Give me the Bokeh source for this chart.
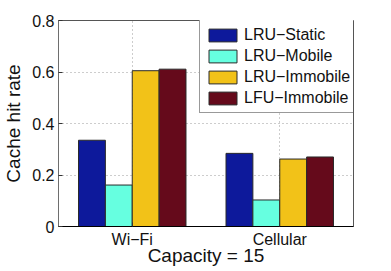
from bokeh.plotting import figure
from bokeh.models import (FactorRange, Range1d, FixedTicker, ColumnDataSource,
                          Legend, LegendItem)
from bokeh.transform import dodge
from bokeh.embed import file_html
from bokeh.resources import INLINE

# ---- data ----
categories = ["Wi\u2212Fi", "Cellular"]
series_names = ["LRU\u2212Static", "LRU\u2212Mobile", "LRU\u2212Immobile", "LFU\u2212Immobile"]
lru_static = [0.335, 0.284]
lru_mobile = [0.161, 0.103]
lru_immobile = [0.605, 0.262]
lfu_immobile = [0.611, 0.270]
y_ticks = [0, 0.2, 0.4, 0.6, 0.8]
y_tick_labels = ["0", "0.2", "0.4", "0.6", "0.8"]
x_label = "Capacity = 15"
y_label = "Cache hit rate"

colors = ["#0d199b", "#66ffe0", "#f2c218", "#650a1b"]
offsets = [-0.2733, -0.0911, 0.0911, 0.2733]
bar_width = 0.1822
FONT = "Liberation Sans"
TEXT = "#111111"

source = ColumnDataSource(dict(cat=categories, s0=lru_static, s1=lru_mobile,
                               s2=lru_immobile, s3=lfu_immobile))

p = figure(width=391, height=271, x_range=FactorRange(factors=categories),
           y_range=Range1d(0, 0.8), output_backend="svg", toolbar_location=None,
           min_border_left=53, min_border_right=38, min_border_top=20,
           min_border_bottom=45)
p.background_fill_color = "white"
p.border_fill_color = "white"
p.outline_line_color = "#555555"

items = []
for i, key in enumerate(["s0", "s1", "s2", "s3"]):
    r = p.vbar(x=dodge("cat", offsets[i], range=p.x_range), top=key, width=bar_width,
               source=source, fill_color=colors[i], line_color="#2a2a2a", line_width=1)
    items.append(LegendItem(label=series_names[i], renderers=[r]))

# axes
p.yaxis.ticker = FixedTicker(ticks=y_ticks)
p.yaxis.major_label_overrides = {t: l for t, l in zip(y_ticks, y_tick_labels)}
for ax in [p.xaxis[0], p.yaxis[0]]:
    ax.major_tick_in = 4
    ax.major_tick_out = 0
    ax.minor_tick_in = 0
    ax.minor_tick_out = 0
    ax.major_label_text_font = FONT
    ax.major_label_text_font_size = "16px"
    ax.major_label_text_color = TEXT
    ax.axis_label_text_font = FONT
    ax.axis_label_text_font_size = "19px"
    ax.axis_label_text_font_style = "normal"
    ax.axis_label_text_color = TEXT
    ax.major_tick_line_color = "#333333"
p.xaxis.axis_label = x_label
p.yaxis.axis_label = y_label
p.xaxis.major_label_standoff = 4
p.xaxis.axis_label_standoff = -6
p.yaxis.major_label_standoff = 4
p.yaxis.axis_label_standoff = 5
p.xaxis.axis_line_color = "black"
p.yaxis.axis_line_color = "#6e6e6e"

# grids
p.ygrid.ticker = FixedTicker(ticks=y_ticks)
p.ygrid.grid_line_color = "#9a9a9a"
p.ygrid.grid_line_dash = "1 3"
p.xgrid.grid_line_color = "#9a9a9a"
p.xgrid.grid_line_dash = "1 3"

legend = Legend(items=items, location=(141, 113), glyph_width=35, glyph_height=16,
                label_height=19, spacing=2, padding=5, label_standoff=4,
                label_text_font=FONT, label_text_font_size="16px", label_text_color=TEXT,
                border_line_color="#333333", border_line_width=1,
                background_fill_color="white", background_fill_alpha=1)
p.add_layout(legend, "center")

open("out.html", "w").write(file_html(p, INLINE))
